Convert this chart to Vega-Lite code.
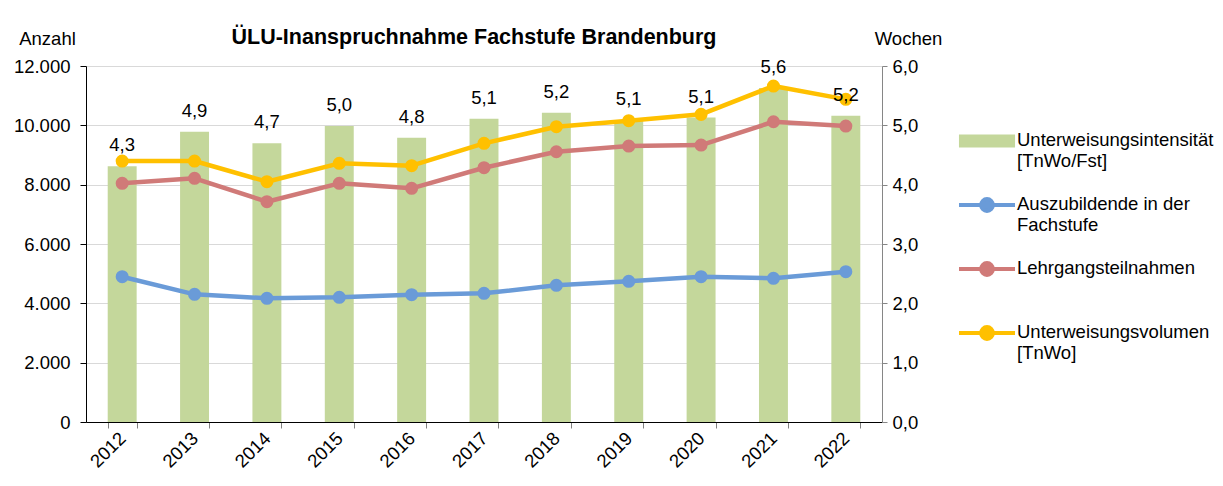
{
  "$schema": "https://vega.github.io/schema/vega-lite/v6.json",
  "width": 796,
  "height": 356,
  "autosize": {"type": "none"},
  "padding": {"left": 86, "top": 66, "right": 341, "bottom": 64},
  "background": "white",
  "config": {
    "locale": {"number": {"decimal": ",", "thousands": ".", "grouping": [3], "currency": ["", " €"]}},
    "font": "Liberation Sans",
    "view": {"stroke": null}
  },
  "title": {"text": "ÜLU-Inanspruchnahme Fachstufe Brandenburg", "fontSize": 21.5, "fontWeight": "bold", "font": "Liberation Sans", "color": "#000000", "anchor": "middle", "dx": -10, "offset": -19},
  "data": {"values": [
    {"year": "2012", "series": "Unterweisungsintensität [TnWo/Fst]", "value": 4.31},
    {"year": "2013", "series": "Unterweisungsintensität [TnWo/Fst]", "value": 4.89},
    {"year": "2014", "series": "Unterweisungsintensität [TnWo/Fst]", "value": 4.70},
    {"year": "2015", "series": "Unterweisungsintensität [TnWo/Fst]", "value": 4.99},
    {"year": "2016", "series": "Unterweisungsintensität [TnWo/Fst]", "value": 4.79},
    {"year": "2017", "series": "Unterweisungsintensität [TnWo/Fst]", "value": 5.11},
    {"year": "2018", "series": "Unterweisungsintensität [TnWo/Fst]", "value": 5.21},
    {"year": "2019", "series": "Unterweisungsintensität [TnWo/Fst]", "value": 5.09},
    {"year": "2020", "series": "Unterweisungsintensität [TnWo/Fst]", "value": 5.13},
    {"year": "2021", "series": "Unterweisungsintensität [TnWo/Fst]", "value": 5.63},
    {"year": "2022", "series": "Unterweisungsintensität [TnWo/Fst]", "value": 5.16},
    {"year": "2012", "series": "Auszubildende in der Fachstufe", "value": 4897},
    {"year": "2013", "series": "Auszubildende in der Fachstufe", "value": 4304},
    {"year": "2014", "series": "Auszubildende in der Fachstufe", "value": 4169},
    {"year": "2015", "series": "Auszubildende in der Fachstufe", "value": 4203},
    {"year": "2016", "series": "Auszubildende in der Fachstufe", "value": 4291},
    {"year": "2017", "series": "Auszubildende in der Fachstufe", "value": 4338},
    {"year": "2018", "series": "Auszubildende in der Fachstufe", "value": 4607},
    {"year": "2019", "series": "Auszubildende in der Fachstufe", "value": 4742},
    {"year": "2020", "series": "Auszubildende in der Fachstufe", "value": 4897},
    {"year": "2021", "series": "Auszubildende in der Fachstufe", "value": 4843},
    {"year": "2022", "series": "Auszubildende in der Fachstufe", "value": 5066},
    {"year": "2012", "series": "Lehrgangsteilnahmen", "value": 8045},
    {"year": "2013", "series": "Lehrgangsteilnahmen", "value": 8214},
    {"year": "2014", "series": "Lehrgangsteilnahmen", "value": 7425},
    {"year": "2015", "series": "Lehrgangsteilnahmen", "value": 8045},
    {"year": "2016", "series": "Lehrgangsteilnahmen", "value": 7877},
    {"year": "2017", "series": "Lehrgangsteilnahmen", "value": 8571},
    {"year": "2018", "series": "Lehrgangsteilnahmen", "value": 9110},
    {"year": "2019", "series": "Lehrgangsteilnahmen", "value": 9302},
    {"year": "2020", "series": "Lehrgangsteilnahmen", "value": 9336},
    {"year": "2021", "series": "Lehrgangsteilnahmen", "value": 10121},
    {"year": "2022", "series": "Lehrgangsteilnahmen", "value": 9976},
    {"year": "2012", "series": "Unterweisungsvolumen [TnWo]", "value": 8797},
    {"year": "2013", "series": "Unterweisungsvolumen [TnWo]", "value": 8797},
    {"year": "2014", "series": "Unterweisungsvolumen [TnWo]", "value": 8100},
    {"year": "2015", "series": "Unterweisungsvolumen [TnWo]", "value": 8720},
    {"year": "2016", "series": "Unterweisungsvolumen [TnWo]", "value": 8640},
    {"year": "2017", "series": "Unterweisungsvolumen [TnWo]", "value": 9393},
    {"year": "2018", "series": "Unterweisungsvolumen [TnWo]", "value": 9953},
    {"year": "2019", "series": "Unterweisungsvolumen [TnWo]", "value": 10155},
    {"year": "2020", "series": "Unterweisungsvolumen [TnWo]", "value": 10370},
    {"year": "2021", "series": "Unterweisungsvolumen [TnWo]", "value": 11325},
    {"year": "2022", "series": "Unterweisungsvolumen [TnWo]", "value": 10876}
  ]},
  "encoding": {
    "x": {
      "field": "year", "type": "ordinal",
      "scale": {"paddingInner": 0.6, "paddingOuter": 0.3},
      "axis": {"title": null, "labelAngle": -45, "labelAlign": "right", "labelBaseline": "middle", "labelFontSize": 18.5, "labelColor": "#000000", "labelFont": "Liberation Sans", "domainColor": "#000000", "tickColor": "#808080", "tickSize": 6, "tickBand": "extent", "labelPadding": 7, "grid": false}
    }
  },
  "layer": [
    {
      "transform": [{"filter": "datum.series == 'Unterweisungsintensität [TnWo/Fst]'"}],
      "mark": {"type": "bar"},
      "encoding": {
        "y": {"field": "value", "type": "quantitative", "scale": {"domain": [0, 6]},
          "axis": {"orient": "right", "title": "Wochen", "titleAngle": 0, "titleX": 26, "titleY": -28, "titleAlign": "center", "titleBaseline": "middle", "titleFontSize": 18.5, "titleFontWeight": "normal", "titleColor": "#000000", "titleFont": "Liberation Sans", "values": [0, 1, 2, 3, 4, 5, 6], "format": ".1f", "labelFontSize": 18.5, "labelColor": "#000000", "labelFont": "Liberation Sans", "domainColor": "#868686", "tickColor": "#868686", "tickSize": 5, "labelPadding": 5, "grid": false}},
        "color": {"field": "series", "type": "nominal",
          "scale": {"domain": ["Unterweisungsintensität [TnWo/Fst]", "Auszubildende in der Fachstufe", "Lehrgangsteilnahmen", "Unterweisungsvolumen [TnWo]"], "range": ["#c4d79b", "#6a9bd8", "#d07a78", "#ffc000"]}}
      }
    },
    {
      "transform": [{"filter": "datum.series != 'Unterweisungsintensität [TnWo/Fst]'"}],
      "mark": {"type": "line", "strokeWidth": 4.5, "strokeJoin": "round", "strokeCap": "round", "point": {"size": 170, "filled": true, "opacity": 1}},
      "encoding": {
        "y": {"field": "value", "type": "quantitative", "scale": {"domain": [0, 12000]},
          "axis": {"orient": "left", "title": "Anzahl", "titleAngle": 0, "titleX": -39, "titleY": -28, "titleAlign": "center", "titleBaseline": "middle", "titleFontSize": 18.5, "titleFontWeight": "normal", "titleColor": "#000000", "titleFont": "Liberation Sans", "values": [0, 2000, 4000, 6000, 8000, 10000, 12000], "format": ",.0f", "labelFontSize": 18.5, "labelColor": "#000000", "labelFont": "Liberation Sans", "domainColor": "#000000", "tickColor": "#000000", "tickSize": 6, "labelPadding": 10, "grid": true, "gridColor": "#d9d9d9"}},
        "color": {"field": "series", "type": "nominal",
          "legend": {
            "title": null, "orient": "none", "legendX": 871, "legendY": 45, "padding": 0,
            "symbolSize": 3136, "symbolStrokeWidth": 4, "labelFontSize": 18.5, "labelFont": "Liberation Sans", "labelColor": "#000000", "labelOffset": 0, "rowPadding": 5, "labelLimit": 400, "labelBaseline": "top",
            "labelExpr": "datum.label == 'Unterweisungsintensität [TnWo/Fst]' ? ['Unterweisungsintensität', '[TnWo/Fst]'] : datum.label == 'Auszubildende in der Fachstufe' ? ['Auszubildende in der', 'Fachstufe'] : datum.label == 'Unterweisungsvolumen [TnWo]' ? ['Unterweisungsvolumen', '[TnWo]'] : [datum.label, ' ']",
            "encode": {
              "symbols": {"update": {
                "shape": {"signal": "datum.value == 'Unterweisungsintensität [TnWo/Fst]' ? 'M-0.93,-0.16H0.93V0.16H-0.93Z' : 'M-1,0H1M0.21,0A0.21,0.21,0,1,1,-0.21,0A0.21,0.21,0,1,1,0.21,0'"},
                "fill": {"signal": "scale('color', datum.value)"},
                "stroke": {"signal": "datum.value == 'Unterweisungsintensität [TnWo/Fst]' ? 'transparent' : scale('color', datum.value)"},
                "strokeWidth": {"value": 4},
                "opacity": {"value": 1}
              }},
              "labels": {"update": {"dy": {"value": -10}}}
            }
          }}
      }
    },
    {
      "transform": [{"filter": "datum.series == 'Unterweisungsintensität [TnWo/Fst]'"}],
      "mark": {"type": "text", "dy": -21, "fontSize": 18.5, "font": "Liberation Sans", "color": "#000000"},
      "encoding": {
        "y": {"field": "value", "type": "quantitative", "scale": {"domain": [0, 6]}, "axis": null},
        "text": {"field": "value", "type": "quantitative", "format": ".1f"}
      }
    }
  ],
  "resolve": {"scale": {"y": "independent"}}
}
